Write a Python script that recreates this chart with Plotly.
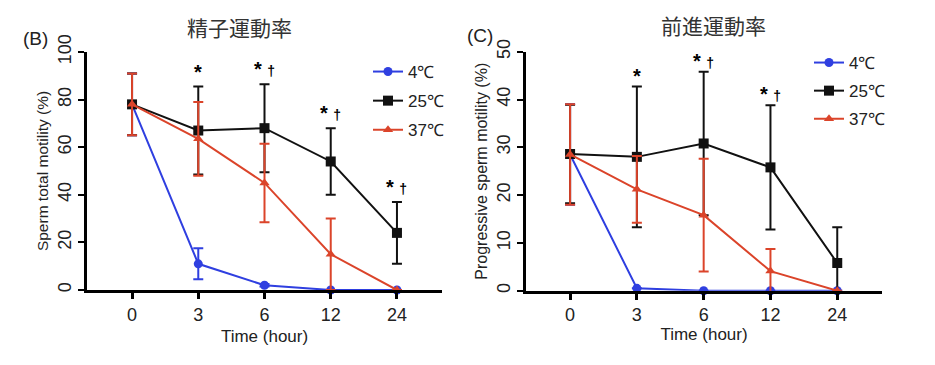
import plotly.graph_objects as go

# ---------------- data ----------------
time_labels = ["0", "3", "6", "12", "24"]
series_names = ["4℃", "25℃", "37℃"]

# (B) Sperm total motility (%)
total_4 = [78, 11, 2, 0, 0]
total_4_err = [13, 6.5, 0.5, 0, 0]
total_25 = [78, 67, 68, 54, 24]
total_25_err = [13, 18.5, 18.5, 14, 13]
total_37 = [78, 63.5, 45, 15, 0]
total_37_err = [13, 15.5, 16.5, 15, 0]
total_sig = ["*", "*†", "*†", "*†"]
total_sig_idx = [1, 2, 3, 4]

# (C) Progressive sperm motility (%)
prog_4 = [28.5, 0.5, 0, 0, 0]
prog_4_err = [10.5, 0, 0, 0, 0]
prog_25 = [28.6, 28, 30.8, 25.8, 5.8]
prog_25_err = [10.3, 14.7, 15, 13, 7.5]
prog_37 = [28.5, 21.2, 15.8, 4.1, 0]
prog_37_err = [10.5, 7, 11.8, 4.6, 0]
prog_sig = ["*", "*†", "*†"]
prog_sig_idx = [1, 2, 3]

colors = ["#2f3fe0", "#111111", "#db442a"]
symbols = ["circle", "square", "triangle-up"]
msizes = [9, 10, 9]

FONT = "Liberation Sans, Arial, sans-serif"
CJK = "Noto Sans CJK JP, sans-serif"

# page body has an 8px margin: the figure is drawn from (8, 8)
W, H, OFF = 927, 357, 8


def px2x(px):
    return (px - OFF) / W


def py2y(py):
    return 1 - (py - OFF) / H


fig = go.Figure()

panels = [
    dict(vals=[total_4, total_25, total_37], errs=[total_4_err, total_25_err, total_37_err],
         xa="x", ya="y", legend="legend", sig=total_sig, sig_idx=total_sig_idx, tag="B", shift=2),
    dict(vals=[prog_4, prog_25, prog_37], errs=[prog_4_err, prog_25_err, prog_37_err],
         xa="x2", ya="y2", legend="legend2", sig=prog_sig, sig_idx=prog_sig_idx, tag="C", shift=-2),
]

for p in panels:
    for i in range(3):
        fig.add_trace(go.Scatter(
            x=time_labels, y=p["vals"][i], name=series_names[i],
            mode="lines+markers", xaxis=p["xa"], yaxis=p["ya"], legend=p["legend"],
            legendgroup=f"{p['tag']}{i}",
            line=dict(color=colors[i], width=2),
            marker=dict(symbol=symbols[i], size=msizes[i], color=colors[i]),
            error_y=dict(type="data", array=p["errs"][i], visible=True,
                         color=colors[i], thickness=2, width=5),
            cliponaxis=False,
        ))
    # significance marks above the 25℃ error bars (x given as category index)
    v25, e25 = p["vals"][1], p["errs"][1]
    for txt, k in zip(p["sig"], p["sig_idx"]):
        label = ("<b>*</b>" if txt == "*" else
                 "<b>* <span style='font-size:14px'>†</span></b>")
        fig.add_annotation(x=k, y=v25[k] + e25[k], xref=p["xa"], yref=p["ya"],
                           text=label, showarrow=False, yanchor="bottom", xanchor="center",
                           yshift=p["shift"],
                           font=dict(family=FONT, size=20, color="#000"))

axis_common = dict(showline=True, linewidth=3, linecolor="#000", showgrid=False, zeroline=False,
                   ticks="outside", tickwidth=3, ticklen=6, tickcolor="#000", automargin=False,
                   tickfont=dict(family=FONT, size=18, color="#222"))

fig.update_layout(
    template="none",
    width=W, height=H, margin=dict(l=0, r=0, t=0, b=0, autoexpand=False),
    paper_bgcolor="white", plot_bgcolor="white",
    showlegend=True,
    xaxis=dict(domain=[px2x(87), px2x(442)], type="category", range=[-0.68, 4.68], anchor="y",
               title=dict(text="Time (hour)", font=dict(family=FONT, size=17, color="#222"), standoff=7),
               **axis_common),
    yaxis=dict(domain=[py2y(290), py2y(52)], range=[0, 100], dtick=20, anchor="x", tickangle=-90,
               title=dict(text="Sperm total motility (%)", font=dict(family=FONT, size=15.5, color="#222"), standoff=3),
               **{**axis_common, "tickwidth": 2}),
    xaxis2=dict(domain=[px2x(526), px2x(882)], type="category", range=[-0.66, 4.67], anchor="y2",
                title=dict(text="Time (hour)", font=dict(family=FONT, size=17, color="#222"), standoff=0),
                **axis_common),
    yaxis2=dict(domain=[py2y(290.7), py2y(51.7)], range=[0, 50], dtick=10, anchor="x2", tickangle=-90,
                title=dict(text="Progressive sperm motility (%)", font=dict(family=FONT, size=16, color="#222"), standoff=3),
                **{**axis_common, "tickwidth": 2}),
    legend=dict(x=px2x(368), y=py2y(54), xanchor="left", yanchor="top", bgcolor="rgba(0,0,0,0)",
                font=dict(family=FONT, size=17, color="#222"), itemwidth=30, tracegroupgap=4),
    legend2=dict(x=px2x(809), y=py2y(45), xanchor="left", yanchor="top", bgcolor="rgba(0,0,0,0)",
                 font=dict(family=FONT, size=17, color="#222"), itemwidth=30, tracegroupgap=3),
)

# titles and panel labels
fig.add_annotation(x=px2x(239), y=py2y(27), xref="paper", yref="paper", text="精子運動率",
                   xanchor="center", yanchor="middle",
                   showarrow=False, font=dict(family=CJK, size=21, color="#333"))
fig.add_annotation(x=px2x(713), y=py2y(25), xref="paper", yref="paper", text="前進運動率",
                   xanchor="center", yanchor="middle",
                   showarrow=False, font=dict(family=CJK, size=21, color="#333"))
fig.add_annotation(x=px2x(21), y=py2y(38), xref="paper", yref="paper", text="(B)",
                   xanchor="left", yanchor="middle",
                   showarrow=False, font=dict(family=FONT, size=19, color="#222"))
fig.add_annotation(x=px2x(465), y=py2y(36), xref="paper", yref="paper", text="(C)",
                   xanchor="left", yanchor="middle",
                   showarrow=False, font=dict(family=FONT, size=19, color="#222"))

fig.write_html("out.html")
